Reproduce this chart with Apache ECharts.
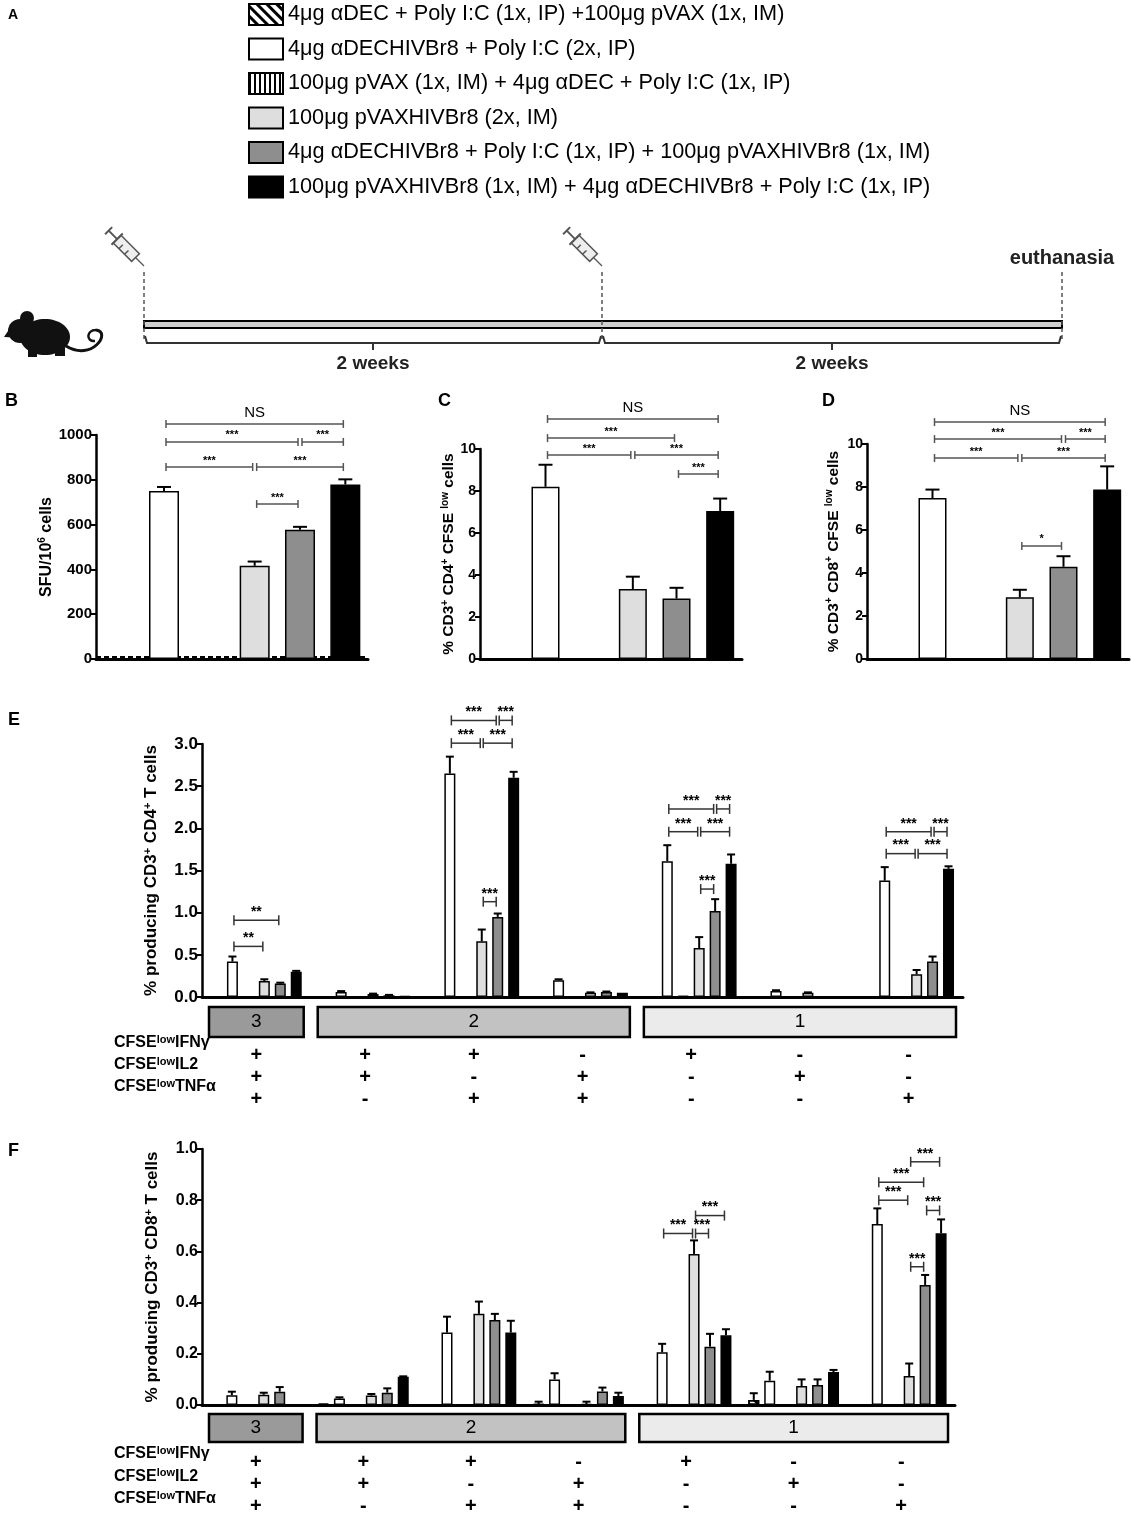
<!DOCTYPE html>
<html>
<head>
<meta charset="utf-8">
<title>HIVBr8 prime-boost</title>
<script src="https://cdn.jsdelivr.net/npm/echarts@6.0.0/dist/echarts.min.js"></script>
<style>
  html, body { margin: 0; padding: 0; background: #fff; }
  #main { width: 1131px; height: 1516px; }
</style>
</head>
<body>
<div id="main"></div>
<script>
// groups, in plotting order
var treatments = [
  '4μg αDEC + Poly I:C (1x, IP) +100μg pVAX (1x, IM)',
  '4μg αDECHIVBr8 + Poly I:C (2x, IP)',
  '100μg pVAX (1x, IM) + 4μg αDEC + Poly I:C (1x, IP)',
  '100μg pVAXHIVBr8 (2x, IM)',
  '4μg αDECHIVBr8 + Poly I:C (1x, IP) + 100μg pVAXHIVBr8 (1x, IM)',
  '100μg pVAXHIVBr8 (1x, IM) + 4μg αDECHIVBr8 + Poly I:C (1x, IP)'
];

// B - ELISPOT
var sfuMean = [0, 750, 0, 416, 577, 779];
var sfuErr = [0, 18, 0, 19, 13, 23];
var sfuCutoff = 12;
// C - CD4 proliferation
var cd4Mean = [0, 8.2, 0, 3.33, 2.88, 7.05];
var cd4Err = [0, 1.05, 0, 0.59, 0.51, 0.59];
// D - CD8 proliferation
var cd8Mean = [0, 7.49, 0, 2.87, 4.29, 7.88];
var cd8Err = [0, 0.39, 0, 0.35, 0.49, 1.08];

// significance brackets: [from group, to group, height, label]
var sigB = [[1, 5, 1049, 'NS'], [1, 4, 969, '***'], [4, 5, 969, '***'], [1, 3, 857, '***'], [3, 5, 857, '***'], [3, 4, 692, '***']];
var sigC = [[1, 5, 11.43, 'NS'], [1, 4, 10.52, '***'], [1, 3, 9.71, '***'], [3, 5, 9.71, '***'], [4, 5, 8.81, '***']];
var sigD = [[1, 5, 11.02, 'NS'], [1, 4, 10.23, '***'], [4, 5, 10.23, '***'], [1, 3, 9.35, '***'], [3, 5, 9.35, '***'], [3, 4, 5.26, '*']];

// E/F - cytokine combinations
var ifnSign = ['+', '+', '+', '-', '+', '-', '-'];
var il2Sign = ['+', '+', '-', '+', '-', '+', '-'];
var tnfSign = ['+', '-', '+', '+', '-', '-', '+'];
var poolLabels = ['3', '2', '1'];
var poolFrom = [0, 1, 4];
var poolTo = [0, 3, 6];

// E - CD4, one row per treatment
var cd4PolyMean = [
  [0, 0, 0, 0, 0, 0, 0],
  [0.42, 0.06, 2.65, 0.20, 1.61, 0.07, 1.38],
  [0, 0, 0, 0, 0.01, 0, 0],
  [0.19, 0.035, 0.66, 0.05, 0.58, 0.05, 0.27],
  [0.16, 0.02, 0.95, 0.06, 1.02, 0.005, 0.42],
  [0.30, 0.01, 2.60, 0.05, 1.58, 0.005, 1.52]
];
var cd4PolyErr = [
  [0, 0, 0, 0, 0, 0, 0],
  [0.06, 0.01, 0.20, 0.01, 0.19, 0.01, 0.16],
  [0, 0, 0, 0, 0, 0, 0],
  [0.02, 0.005, 0.14, 0.005, 0.13, 0.005, 0.05],
  [0.01, 0.005, 0.04, 0.005, 0.14, 0, 0.06],
  [0.01, 0, 0.07, 0, 0.11, 0, 0.03]
];
// F - CD8
var cd8PolyMean = [
  [0, 0.005, 0, 0.003, 0, 0.02, 0],
  [0.038, 0.025, 0.283, 0.10, 0.206, 0.095, 0.707],
  [0, 0, 0, 0, 0, 0, 0],
  [0.04, 0.037, 0.356, 0.003, 0.59, 0.074, 0.113],
  [0.052, 0.048, 0.332, 0.053, 0.228, 0.078, 0.469],
  [0, 0.11, 0.283, 0.035, 0.272, 0.129, 0.671]
];
var cd8PolyErr = [
  [0, 0, 0, 0.01, 0, 0.026, 0],
  [0.014, 0.005, 0.062, 0.024, 0.033, 0.035, 0.061],
  [0, 0, 0, 0, 0, 0, 0],
  [0.008, 0.006, 0.048, 0.01, 0.053, 0.026, 0.049],
  [0.018, 0.017, 0.024, 0.015, 0.05, 0.022, 0.039],
  [0, 0.002, 0.046, 0.013, 0.024, 0.008, 0.054]
];
// [combination, from bar, to bar, height, label]
var sigE = [
  [0, 1, 4, 0.91, '**'], [0, 1, 3, 0.60, '**'],
  [2, 1, 4, 3.28, '***'], [2, 4, 5, 3.28, '***'], [2, 1, 3, 3.01, '***'], [2, 3, 5, 3.01, '***'], [2, 3, 4, 1.13, '***'],
  [4, 1, 4, 2.23, '***'], [4, 4, 5, 2.23, '***'], [4, 1, 3, 1.96, '***'], [4, 3, 5, 1.96, '***'], [4, 3, 4, 1.28, '***'],
  [6, 1, 4, 1.96, '***'], [6, 4, 5, 1.96, '***'], [6, 1, 3, 1.70, '***'], [6, 3, 5, 1.70, '***']
];
var sigF = [
  [4, 1, 3, 0.67, '***'], [4, 3, 4, 0.67, '***'], [4, 3, 5, 0.74, '***'],
  [6, 1, 3, 0.80, '***'], [6, 1, 4, 0.87, '***'], [6, 3, 5, 0.95, '***'], [6, 4, 5, 0.76, '***'], [6, 3, 4, 0.54, '***']
];

var FONT = '"Liberation Sans", Arial, sans-serif';
var fills = ['#ffffff', '#ffffff', '#ffffff', '#dedede', '#8e8e8e', '#000000'];
var decals = [
  { symbol: 'rect', symbolSize: 1, dashArrayX: [1, 0], dashArrayY: [3, 4], rotation: Math.PI / 4, color: '#000' },
  null,
  { symbol: 'rect', symbolSize: 1, dashArrayX: [2, 3], dashArrayY: [1, 0], rotation: 0, color: '#000' },
  null, null, null
];
var poolFills = ['#9a9a9a', '#c2c2c2', '#ebebeb'];
var barW = 11;
var barGapPct = 0.45;
var pitch = barW * (1 + barGapPct);

var chart = echarts.init(document.getElementById('main'));

function nameRich(size) {
  return {
    t: { fontSize: size, fontWeight: 'bold', fontFamily: FONT, color: '#000', lineHeight: size + 2 },
    u: { fontSize: Math.round(size * 0.65), fontWeight: 'bold', fontFamily: FONT, color: '#000', verticalAlign: 'top', lineHeight: Math.round(size * 0.7) }
  };
}

function yAxis(gi, max, step, labelSize, name, nameSize, nameGap, digits) {
  return {
    type: 'value', gridIndex: gi, min: 0, max: max, interval: step,
    axisLine: { show: true, lineStyle: { color: '#000', width: 2.5 } },
    axisTick: { show: true, length: 5, lineStyle: { color: '#000', width: 2 } },
    splitLine: { show: false },
    axisLabel: {
      color: '#000', fontWeight: 'bold', fontSize: labelSize, fontFamily: FONT, margin: 4,
      formatter: function (v) { return v.toFixed(digits); }
    },
    name: name, nameLocation: 'middle', nameRotate: 90, nameGap: nameGap,
    nameTextStyle: { rich: nameRich(nameSize) }
  };
}

function simpleX(gi) {
  return {
    type: 'category', gridIndex: gi, data: treatments,
    axisLine: { lineStyle: { color: '#000', width: 3 } },
    axisTick: { show: false }, axisLabel: { show: false }
  };
}

function signX(gi, margin) {
  return {
    type: 'category', gridIndex: gi,
    data: ifnSign.map(function (s, i) { return s + '\n' + il2Sign[i] + '\n' + tnfSign[i]; }),
    axisLine: { lineStyle: { color: '#000', width: 3 } },
    axisTick: { show: false },
    axisLabel: { interval: 0, color: '#000', fontSize: 20, fontWeight: 'bold', fontFamily: FONT, lineHeight: 22, margin: margin }
  };
}

// error bar drawn at the bar top, only upward
function errRender(cap, withOffset) {
  return function (params, api) {
    var x = api.value(0);
    var m = withOffset ? api.value(2) : api.value(1);
    var e = withOffset ? api.value(3) : api.value(2);
    var dx = withOffset ? (api.value(1) - 2.5) * pitch : 0;
    var p0 = api.coord([x, m]);
    var p1 = api.coord([x, m + e]);
    var st = { stroke: '#000', lineWidth: 2 };
    return {
      type: 'group',
      children: [
        { type: 'line', shape: { x1: p0[0] + dx, y1: p0[1], x2: p1[0] + dx, y2: p1[1] }, style: st },
        { type: 'line', shape: { x1: p1[0] + dx - cap / 2, y1: p1[1], x2: p1[0] + dx + cap / 2, y2: p1[1] }, style: st }
      ]
    };
  };
}

function bracketShape(x1, x2, y, label, opt) {
  var st = { stroke: opt.color, lineWidth: 1.5 };
  return {
    type: 'group',
    children: [
      { type: 'line', shape: { x1: x1, y1: y, x2: x2, y2: y }, style: st },
      { type: 'line', shape: { x1: x1, y1: y - opt.tick, x2: x1, y2: y + opt.tick }, style: st },
      { type: 'line', shape: { x1: x2, y1: y - opt.tick, x2: x2, y2: y + opt.tick }, style: st },
      {
        type: 'text', x: (x1 + x2) / 2, y: y - (label === 'NS' ? 4 : 1),
        style: {
          text: label, align: 'center', verticalAlign: 'bottom', fill: '#000', fontFamily: FONT,
          fontSize: label === 'NS' ? 15 : opt.starSize, fontWeight: label === 'NS' ? 'normal' : 'bold'
        }
      }
    ]
  };
}

function sigSeries(sig, gi, opt) {
  return {
    type: 'custom', xAxisIndex: gi, yAxisIndex: gi, clip: false, z: 4, silent: true,
    data: sig.map(function (s) { return [s[0], s[1], s[2]]; }),
    encode: { x: [0, 1], y: 2 },
    renderItem: function (params, api) {
      var a = api.coord([api.value(0), api.value(2)]);
      var b = api.coord([api.value(1), api.value(2)]);
      return bracketShape(a[0] + 2, b[0] - 2, a[1], sig[params.dataIndex][3], opt);
    }
  };
}

function polySigSeries(sig, gi) {
  return {
    type: 'custom', xAxisIndex: gi, yAxisIndex: gi, clip: false, z: 4, silent: true,
    data: sig.map(function (s) { return [s[0], s[1], s[2], s[3]]; }),
    encode: { x: 0, y: 3 },
    renderItem: function (params, api) {
      var c = api.coord([api.value(0), api.value(3)]);
      var x1 = c[0] + (api.value(1) - 2.5) * pitch;
      var x2 = c[0] + (api.value(2) - 2.5) * pitch;
      return bracketShape(x1 + 1.5, x2 - 1.5, c[1], sig[params.dataIndex][4], { color: '#333', tick: 5, starSize: 14 });
    }
  };
}

function poolSeries(gi, gap, h) {
  return {
    type: 'custom', xAxisIndex: gi, yAxisIndex: gi, clip: false, silent: true,
    data: poolFrom.map(function (f, i) { return [f, poolTo[i], 0]; }),
    encode: { x: [0, 1], y: 2 },
    renderItem: function (params, api) {
      var p0 = api.coord([api.value(0), 0]);
      var p1 = api.coord([api.value(1), 0]);
      var w = api.size([1, 0])[0];
      var x = p0[0] - w / 2 + 7;
      var width = p1[0] - p0[0] + w - 14;
      return {
        type: 'group',
        children: [
          { type: 'rect', shape: { x: x, y: p0[1] + gap, width: width, height: h },
            style: { fill: poolFills[params.dataIndex], stroke: '#000', lineWidth: 2.5 } },
          { type: 'text', x: x + width / 2, y: p0[1] + gap + h / 2,
            style: { text: poolLabels[params.dataIndex], align: 'center', verticalAlign: 'middle',
              fontSize: 19, fontFamily: FONT, fill: '#000' } }
        ]
      };
    }
  };
}

function simpleBars(gi, means, errs, width, extra) {
  var bar = {
    type: 'bar', xAxisIndex: gi, yAxisIndex: gi, barWidth: width, z: 2,
    itemStyle: { borderColor: '#000', borderWidth: 1.5 },
    data: means.map(function (v, i) { return { value: v, itemStyle: { color: fills[i] } }; })
  };
  if (extra) bar.markLine = extra;
  var err = {
    type: 'custom', xAxisIndex: gi, yAxisIndex: gi, clip: false, z: 3, silent: true,
    data: means.map(function (m, i) { return [i, m, errs[i]]; }).filter(function (d) { return d[2] > 0; }),
    encode: { x: 0, y: 1 },
    renderItem: errRender(14, false)
  };
  return [bar, err];
}

function polyBars(gi, means, errs) {
  var out = [];
  treatments.forEach(function (name, k) {
    var s = {
      type: 'bar', name: name, xAxisIndex: gi, yAxisIndex: gi, barWidth: barW, barGap: (barGapPct * 100) + '%', z: 2,
      itemStyle: { color: fills[k], borderColor: '#000', borderWidth: 1.5 },
      data: means[k]
    };
    if (decals[k]) s.itemStyle.decal = decals[k];
    out.push(s);
  });
  var errData = [];
  means.forEach(function (row, k) {
    row.forEach(function (m, g) {
      if (errs[k][g] > 0) errData.push([g, k, m, errs[k][g]]);
    });
  });
  out.push({
    type: 'custom', xAxisIndex: gi, yAxisIndex: gi, clip: false, z: 3, silent: true,
    data: errData, encode: { x: 0, y: 2 }, renderItem: errRender(8, true)
  });
  return out;
}

// panel A: schedule drawing
function syringe(x, y) {
  var st = { stroke: '#555', lineWidth: 1.5, fill: 'none' };
  return {
    type: 'group', x: x, y: y, rotation: Math.PI / 4,
    children: [
      { type: 'line', shape: { x1: 0, y1: 0, x2: 0, y2: -12 }, style: { stroke: '#555', lineWidth: 1.2 } },
      { type: 'rect', shape: { x: -5.5, y: -38, width: 11, height: 26 }, style: { stroke: '#555', lineWidth: 1.5, fill: '#eee' } },
      { type: 'line', shape: { x1: -5.5, y1: -30, x2: 0, y2: -30 }, style: st },
      { type: 'line', shape: { x1: -5.5, y1: -22, x2: 0, y2: -22 }, style: st },
      { type: 'line', shape: { x1: 0, y1: -38, x2: 0, y2: -50 }, style: { stroke: '#555', lineWidth: 2 } },
      { type: 'line', shape: { x1: -5, y1: -50, x2: 5, y2: -50 }, style: { stroke: '#555', lineWidth: 2 } },
      { type: 'line', shape: { x1: -8, y1: -38, x2: 8, y2: -38 }, style: { stroke: '#555', lineWidth: 2 } }
    ]
  };
}

var mouse = {
  type: 'group',
  children: [
    { type: 'ellipse', shape: { cx: 45, cy: 337, rx: 25, ry: 18 }, style: { fill: '#111' } },
    { type: 'circle', shape: { cx: 20, cy: 331, r: 12 }, style: { fill: '#111' } },
    { type: 'polygon', shape: { points: [[4, 337], [14, 322], [24, 338]] }, style: { fill: '#111' } },
    { type: 'circle', shape: { cx: 27, cy: 318, r: 7 }, style: { fill: '#111' } },
    { type: 'rect', shape: { x: 28, y: 348, width: 9, height: 9 }, style: { fill: '#111' } },
    { type: 'rect', shape: { x: 55, y: 348, width: 10, height: 8 }, style: { fill: '#111' } },
    { type: 'bezierCurve', shape: { x1: 66, y1: 346, cpx1: 92, cpy1: 362, cpx2: 112, cpy2: 332, x2: 96, y2: 330 },
      style: { stroke: '#111', lineWidth: 3, fill: 'none' } },
    { type: 'bezierCurve', shape: { x1: 96, y1: 330, cpx1: 86, cpy1: 330, cpx2: 86, cpy2: 342, x2: 95, y2: 341 },
      style: { stroke: '#111', lineWidth: 2.5, fill: 'none' } }
  ]
};

var schedule = [
  mouse,
  syringe(144, 266), syringe(602, 266),
  { type: 'rect', shape: { x: 144, y: 321, width: 918, height: 7 }, style: { fill: '#cfcfcf', stroke: '#000', lineWidth: 2 } }
];
[144, 602, 1062].forEach(function (x) {
  schedule.push({ type: 'line', shape: { x1: x, y1: 272, x2: x, y2: 342 }, style: { stroke: '#555', lineWidth: 1.5, lineDash: [4, 3] } });
});
[[144, 602], [602, 1062]].forEach(function (seg) {
  var mid = (seg[0] + seg[1]) / 2;
  schedule.push({ type: 'polyline', shape: { points: [[seg[0] + 1, 336], [seg[0] + 3, 343], [seg[1] - 3, 343], [seg[1] - 1, 336]] },
    style: { stroke: '#333', lineWidth: 2, fill: 'none' } });
  schedule.push({ type: 'line', shape: { x1: mid, y1: 343, x2: mid, y2: 350 }, style: { stroke: '#333', lineWidth: 2 } });
  schedule.push({ type: 'text', x: mid, y: 364, style: { text: '2 weeks', align: 'center', verticalAlign: 'middle',
    fontSize: 19, fontWeight: 'bold', fontFamily: FONT, fill: '#222' } });
});
schedule.push({ type: 'text', x: 1062, y: 258, style: { text: 'euthanasia', align: 'center', verticalAlign: 'middle',
  fontSize: 20, fontWeight: 'bold', fontFamily: FONT, fill: '#222' } });

// panel letters
[['A', 8, 8, 14], ['B', 5, 392, 18], ['C', 438, 392, 18], ['D', 822, 392, 18], ['E', 8, 711, 18], ['F', 8, 1142, 18]].forEach(function (p) {
  schedule.push({ type: 'text', x: p[1], y: p[2], style: { text: p[0], fontSize: p[3], fontWeight: 'bold', fontFamily: FONT, fill: '#000' } });
});

// row titles for the cytokine combinations
var rowNames = ['IFNγ', 'IL2', 'TNFα'];
[[1043, 22], [1454, 22.5]].forEach(function (r) {
  rowNames.forEach(function (n, i) {
    schedule.push({
      type: 'text', x: 114, y: r[0] + i * r[1],
      style: {
        text: '{a|CFSE}{s|low}{a|' + n + '}', verticalAlign: 'middle',
        rich: {
          a: { fontSize: 16, fontWeight: 'bold', fontFamily: FONT, fill: '#000', lineHeight: 18 },
          s: { fontSize: 11, fontWeight: 'bold', fontFamily: FONT, fill: '#000', verticalAlign: 'top', lineHeight: 11 }
        }
      }
    });
  });
});

var series = [];
series = series.concat(simpleBars(0, sfuMean, sfuErr, 30, {
  silent: true, symbol: 'none', z: 1, label: { show: false },
  lineStyle: { type: [5, 3], color: '#000', width: 2 },
  data: [{ yAxis: sfuCutoff }]
}));
series = series.concat(simpleBars(1, cd4Mean, cd4Err, 28));
series = series.concat(simpleBars(2, cd8Mean, cd8Err, 28));
series.push(sigSeries(sigB, 0, { color: '#555', tick: 4, starSize: 11 }));
series.push(sigSeries(sigC, 1, { color: '#555', tick: 4, starSize: 11 }));
series.push(sigSeries(sigD, 2, { color: '#555', tick: 4, starSize: 11 }));
series = series.concat(polyBars(3, cd4PolyMean, cd4PolyErr));
series = series.concat(polyBars(4, cd8PolyMean, cd8PolyErr));
series.push(polySigSeries(sigE, 3));
series.push(polySigSeries(sigF, 4));
series.push(poolSeries(3, 10, 30));
series.push(poolSeries(4, 9, 28));

chart.setOption({
  animation: false,
  backgroundColor: '#fff',
  legend: {
    data: treatments, orient: 'vertical', left: 248, top: 3, padding: 0,
    itemWidth: 34, itemHeight: 21, itemGap: 11.5, icon: 'rect', selectedMode: false,
    itemStyle: { borderColor: '#000', borderWidth: 2 },
    textStyle: { fontSize: 21.7, fontFamily: FONT, color: '#000', lineHeight: 21 }
  },
  grid: [
    { left: 96, top: 435, width: 272, height: 224, outerBoundsMode: 'none' },
    { left: 480, top: 449, width: 262, height: 210, outerBoundsMode: 'none' },
    { left: 867, top: 444, width: 262, height: 215, outerBoundsMode: 'none' },
    { left: 202, top: 744, width: 761, height: 253, outerBoundsMode: 'none' },
    { left: 202, top: 1149, width: 753, height: 256, outerBoundsMode: 'none' }
  ],
  xAxis: [simpleX(0), simpleX(1), simpleX(2), signX(3, 47), signX(4, 46)],
  yAxis: [
    yAxis(0, 1000, 200, 15, '{t|SFU/10}{u|6}{t| cells}', 16, 40, 0),
    yAxis(1, 10, 2, 14, '{t|% CD3}{u|+}{t| CD4}{u|+}{t| CFSE }{u|low}{t| cells}', 15.5, 17, 0),
    yAxis(2, 10, 2, 14, '{t|% CD3}{u|+}{t| CD8}{u|+}{t| CFSE }{u|low}{t| cells}', 15.5, 25, 0),
    yAxis(3, 3, 0.5, 17, '{t|% producing CD3}{u|+}{t| CD4}{u|+}{t| T cells}', 17, 41, 1),
    yAxis(4, 1, 0.2, 16, '{t|% producing CD3}{u|+}{t| CD8}{u|+}{t| T cells}', 17, 40, 1)
  ],
  graphic: { elements: schedule },
  series: series
});
</script>
</body>
</html>
